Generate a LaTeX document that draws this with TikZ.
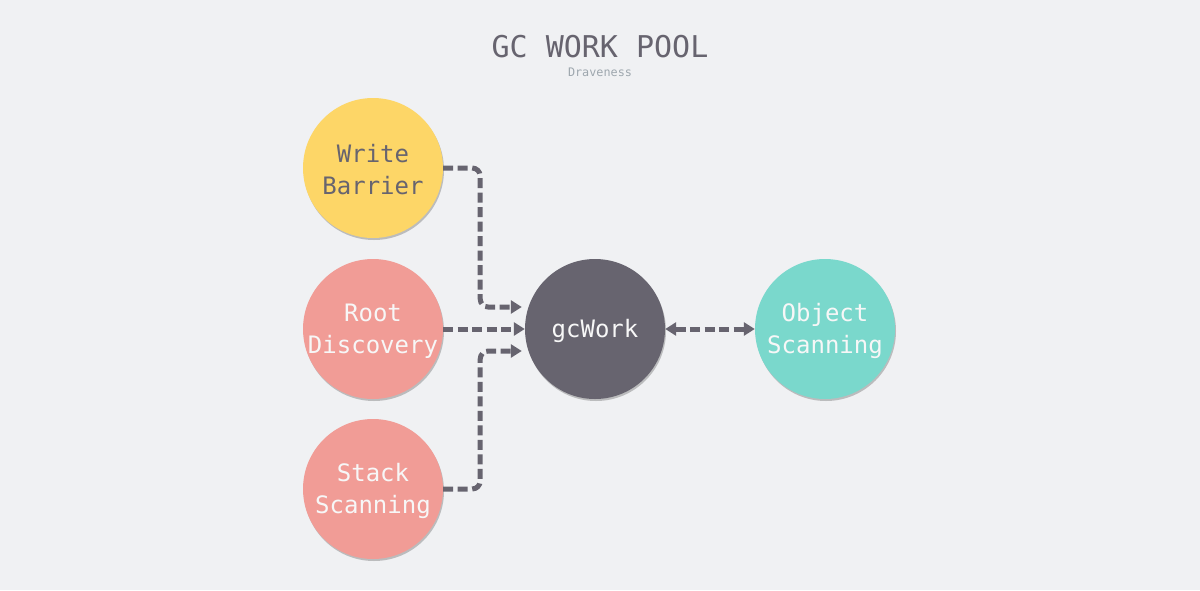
\documentclass[tikz,border=0pt]{standalone}
\usepackage{fontspec}
\setmonofont{DejaVu Sans Mono}
\usetikzlibrary{arrows.meta,shadows}
\definecolor{bgc}{HTML}{F0F1F3}
\definecolor{ylw}{HTML}{FDD667}
\definecolor{pnk}{HTML}{F19C96}
\definecolor{tea}{HTML}{7AD8CC}
\definecolor{drk}{HTML}{67646F}
\definecolor{sub}{HTML}{9EA7AE}
\definecolor{wtxt}{HTML}{F7F7F7}
\tikzset{
  bubble/.style={circle, minimum size=140pt, inner sep=0pt,
    drop shadow={shadow xshift=1pt, shadow yshift=-2pt, opacity=0.22, fill=black}},
  btext/.style={align=center, yshift=-2pt, font=\ttfamily\fontsize{24}{32}\selectfont},
  link/.style={draw=drk, line width=5pt, dash pattern=on 10pt off 4.5pt, rounded corners=8pt},
  tip/.style={-{Triangle[length=11pt,width=13pt]}},
}
\begin{document}
\begin{tikzpicture}[x=1pt,y=-1pt]
\fill[bgc] (0,0) rectangle (1200,590);
\useasboundingbox (0,0) rectangle (1200,590);
\node[text=drk, font=\ttfamily\fontsize{30}{36}\selectfont] (title) at (600,47) {GC WORK POOL};
\node[text=sub, font=\ttfamily\fontsize{11.8}{14}\selectfont] (author) at (600,72) {Draveness};
\node[bubble, fill=ylw, label={[btext, text=drk]center:Write\\Barrier}] (wb) at (373,168) {};
\node[bubble, fill=pnk, label={[btext, text=wtxt]center:Root\\Discovery}] (rd) at (373,329) {};
\node[bubble, fill=pnk, label={[btext, text=wtxt]center:Stack\\Scanning}] (ss) at (373,489) {};
\node[bubble, fill=drk, label={[btext, text=wtxt]center:gcWork}] (gc) at (595,329) {};
\node[bubble, fill=tea, label={[btext, text=wtxt]center:Object\\Scanning}] (os) at (825,329) {};
\draw[link, tip] (wb.east) -- ++(37,0) |- ([xshift=-3pt,yshift=22pt]gc.west);
\draw[link, tip] (rd.east) -- (gc.west);
\draw[link, tip] (ss.east) -- ++(37,0) |- ([xshift=-3pt,yshift=-22pt]gc.west);
\draw[link, {Triangle[length=11pt,width=13pt]}-{Triangle[length=11pt,width=13pt]}] (gc.east) -- (os.west);
\end{tikzpicture}
\end{document}
